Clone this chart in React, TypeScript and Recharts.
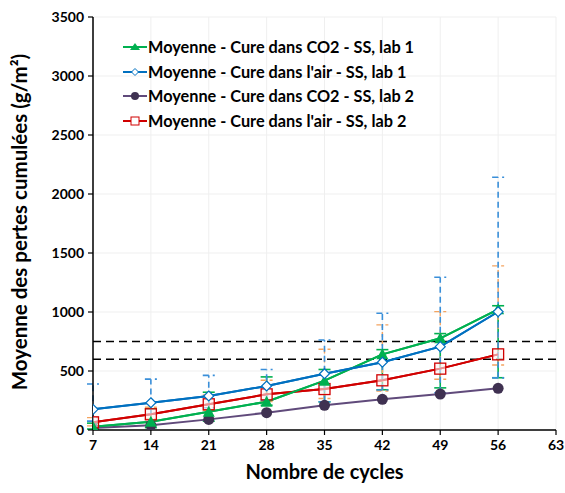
import React from "react";
import {
  LineChart,
  Line,
  XAxis,
  YAxis,
  CartesianGrid,
  ErrorBar,
  ReferenceLine,
} from "recharts";

const cycles = [7, 14, 21, 28, 35, 42, 49, 56];

const co2Lab1 = [28, 70, 155, 240, 418, 641, 777, 1023];
const airLab1 = [175, 231, 288, 373, 477, 574, 706, 1002];
const co2Lab2 = [17, 40, 90, 147, 209, 260, 305, 353];
const airLab2 = [65, 133, 218, 302, 347, 421, 520, 641];

// error bars [low, high]
const co2Lab1Err = [[20, 30], [50, 110], [80, 165], [30, 210], [180, 95], [300, 40], [420, 40], [580, 30]];
const airLab1Err = [[100, 215], [100, 200], [100, 175], [120, 140], [237, 286], [235, 415], [390, 588], [560, 1140]];
const airLab2Err = [[30, 40], [40, 60], [50, 80], [60, 120], [80, 337], [90, 470], [90, 483], [90, 750]];

const xTicks = [7, 14, 21, 28, 35, 42, 49, 56, 63];
const yTicks = [0, 500, 1000, 1500, 2000, 2500, 3000, 3500];
const limits = [600, 750];

const names = [
  "Moyenne - Cure dans CO2 - SS, lab 1",
  "Moyenne - Cure dans l'air - SS, lab 1",
  "Moyenne - Cure dans CO2 - SS, lab 2",
  "Moyenne - Cure dans l'air - SS, lab 2",
];

const data = cycles.map((c, i) => ({
  cycle: c,
  co2Lab1: co2Lab1[i],
  airLab1: airLab1[i],
  co2Lab2: co2Lab2[i],
  airLab2: airLab2[i],
  co2Lab1Err: co2Lab1Err[i],
  airLab1Err: airLab1Err[i],
  airLab2Err: airLab2Err[i],
}));

const GREEN = "#00B050";
const BLUE = "#0070C0";
const PURPLE = "#604A7B";
const RED = "#D00000";

const font = "Lato, 'Open Sans', sans-serif";

const Triangle = (p: any) => {
  const { cx, cy } = p;
  if (cx == null || cy == null) return null;
  return <polygon key={p.index} points={`${cx},${cy - 6} ${cx - 6},${cy + 5} ${cx + 6},${cy + 5}`} fill={GREEN} />;
};
const Diamond = (p: any) => {
  const { cx, cy } = p;
  if (cx == null || cy == null) return null;
  return <polygon key={p.index} points={`${cx},${cy - 5} ${cx + 5},${cy} ${cx},${cy + 5} ${cx - 5},${cy}`} fill="#fff" stroke={BLUE} strokeWidth={1.2} />;
};
const Dot = (p: any) => {
  const { cx, cy } = p;
  if (cx == null || cy == null) return null;
  return <circle key={p.index} cx={cx} cy={cy} r={5.5} fill="#3F3151" />;
};
const Square = (p: any) => {
  const { cx, cy } = p;
  if (cx == null || cy == null) return null;
  return <rect key={p.index} x={cx - 5.5} y={cy - 5.5} width={11} height={11} fill="#FDF1F1" fillOpacity={0.6} stroke={RED} strokeWidth={1.3} />;
};

const markers = [
  { color: GREEN, shape: (x: number, y: number) => <polygon points={`${x},${y - 4} ${x - 5},${y + 3} ${x + 5},${y + 3}`} fill={GREEN} /> },
  { color: BLUE, shape: (x: number, y: number) => <polygon points={`${x},${y - 3.5} ${x + 3.5},${y} ${x},${y + 3.5} ${x - 3.5},${y}`} fill="#fff" stroke={BLUE} /> },
  { color: PURPLE, shape: (x: number, y: number) => <circle cx={x} cy={y} r={4} fill="#3F3151" /> },
  { color: RED, shape: (x: number, y: number) => <rect x={x - 4} y={y - 4} width={8} height={8} fill="#fff" stroke={RED} /> },
];

const LegendBox = () => (
  <div style={{ position: "absolute", left: 123, top: 35, fontFamily: font, fontWeight: 700, fontSize: 16.3, color: "#000", lineHeight: 1 }}>
    {names.map((n, i) => (
      <div key={n} style={{ display: "flex", alignItems: "center", height: 24.5 }}>
        <svg width={24} height={12} style={{ marginRight: 1 }}>
          <line x1={0} y1={6} x2={24} y2={6} stroke={markers[i].color} strokeWidth={2} />
          {markers[i].shape(12, 6)}
        </svg>
        <span>{n}</span>
      </div>
    ))}
  </div>
);

const tickStyle = { fill: "#000", fontSize: 14, fontWeight: 700, fontFamily: font };

const YLabel = () => (
  <text
    x={0}
    y={0}
    transform="translate(27 222) rotate(-90)"
    textAnchor="middle"
    fill="#000"
    style={{ fontSize: 20.5, fontWeight: 700, fontFamily: font }}
  >
    Moyenne des pertes cumulées (g/m²)
  </text>
);

const App = () => {
  return (
    <div style={{ position: "absolute", left: 0, top: 0, width: 565, height: 493, background: "#fff" }}>
      <LineChart
        width={565}
        height={493}
        data={data}
        margin={{ top: 17, right: 9, left: 0, bottom: 0 }}
      >
        <CartesianGrid stroke="#EFEFEF" />
        <XAxis
          dataKey="cycle"
          type="number"
          domain={[7, 63]}
          ticks={xTicks}
          allowDataOverflow
          height={63}
          tickSize={5}
          tickMargin={5}
          axisLine={{ stroke: "#000", strokeWidth: 1.5 }}
          tickLine={{ stroke: "#000", strokeWidth: 1.2 }}
          tick={tickStyle}
          label={{ value: "Nombre de cycles", position: "insideBottom", offset: 14, style: { fill: "#000", fontSize: 20, fontWeight: 700, fontFamily: font } }}
        />
        <YAxis
          type="number"
          domain={[0, 3500]}
          ticks={yTicks}
          allowDataOverflow
          width={93}
          tickSize={5}
          tickMargin={4}
          axisLine={{ stroke: "#000", strokeWidth: 1.5 }}
          tickLine={{ stroke: "#000", strokeWidth: 1.2 }}
          tick={tickStyle}
          label={<YLabel />}
        />
        {limits.map((v) => (
          <ReferenceLine key={v} y={v} stroke="#000" strokeWidth={1.5} strokeDasharray="8 5" />
        ))}
        <Line dataKey="co2Lab1" stroke={GREEN} strokeWidth={2} dot={false} isAnimationActive={false}>
          <ErrorBar dataKey="co2Lab1Err" direction="y" width={6} stroke={GREEN} strokeWidth={1.6} />
        </Line>
        <Line dataKey="airLab2" stroke={RED} strokeWidth={2} dot={false} isAnimationActive={false}>
          <ErrorBar dataKey="airLab2Err" direction="y" width={6} stroke="#F4A460" strokeWidth={1.4} strokeDasharray="5 4" />
        </Line>
        <Line dataKey="airLab1" stroke={BLUE} strokeWidth={2} dot={false} isAnimationActive={false}>
          <ErrorBar dataKey="airLab1Err" direction="y" width={6} stroke="#3A8FD9" strokeWidth={1.6} strokeDasharray="6 4" />
        </Line>
        <Line dataKey="co2Lab2" name={names[2]} stroke={PURPLE} strokeWidth={2} dot={Dot} isAnimationActive={false} />
        <Line dataKey="airLab2" name={names[3]} stroke={RED} strokeWidth={2} dot={Square} isAnimationActive={false} />
        <Line dataKey="co2Lab1" name={names[0]} stroke={GREEN} strokeWidth={2} dot={Triangle} isAnimationActive={false} />
        <Line dataKey="airLab1" name={names[1]} stroke={BLUE} strokeWidth={2} dot={Diamond} isAnimationActive={false} />
      </LineChart>
      <LegendBox />
    </div>
  );
};

export default App;
